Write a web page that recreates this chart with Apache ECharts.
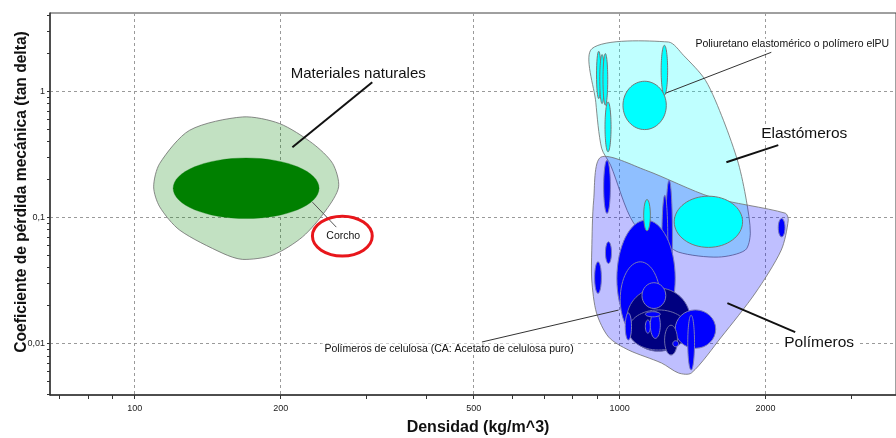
<!DOCTYPE html>
<html>
<head>
<meta charset="utf-8">
<script src="https://cdn.jsdelivr.net/npm/echarts@6/dist/echarts.min.js"></script>
<style>
  html, body { margin: 0; padding: 0; background: #fff; }
  #chart { width: 896px; height: 438px; }
</style>
</head>
<body>
<div id="chart"></div>
<script>
// ---- Axis extents and ticks ----
const densityRange = [66.87, 3715];          // kg/m^3
const lossRange = [0.003917, 4.17];          // tan delta
const densityLabelTicks = [100, 200, 500, 1000, 2000];
const densityMinorTicks = [70, 80, 90, 100, 200, 300, 400, 500, 600, 700, 800, 900, 1000, 2000, 3000];
const lossLabelTicks = [0.01, 0.1, 1];
const lossLabelText = ['0,01', '0,1', '1'];
const lossMinorTicks = [0.004, 0.005, 0.006, 0.007, 0.008, 0.009,
  0.01, 0.02, 0.03, 0.04, 0.05, 0.06, 0.07, 0.08, 0.09,
  0.1, 0.2, 0.3, 0.4, 0.5, 0.6, 0.7, 0.8, 0.9, 1, 2, 3, 4];

// ---- Material ranges: [density low, density high, loss low, loss high] ----
const corkRange = [[120, 240, 0.098, 0.296]];

const elastomerBubbles = [
  [896, 915, 0.875, 2.074],
  [910, 930, 0.799, 1.952],
  [924, 945, 0.775, 1.988],
  [933, 960, 0.331, 0.823],
  [1218, 1256, 0.930, 2.313],
  [1016, 1248, 0.497, 1.200],   // PU elastomer
  [1296, 1793, 0.0579, 0.1474],
  [1121, 1157, 0.0783, 0.1388]
];

const polymerBubbles = [
  [927, 957, 0.1075, 0.284],
  [935, 962, 0.0432, 0.0641],
  [888, 917, 0.025, 0.0445],
  [2124, 2193, 0.0702, 0.0982],
  [1245, 1285, 0.0266, 0.197],
  [1222, 1257, 0.0282, 0.150],
  [987, 1302, 0.01134, 0.0952],  // cellulose acetate
  [1003, 1213, 0.01134, 0.0445]
];

const polymerDarkBubbles = [
  [1034, 1398, 0.0087, 0.0276],
  [1043, 1387, 0.0089, 0.0185]
];

const polymerTopBubbles = [
  [1112, 1245, 0.019, 0.0304],
  [1130, 1157, 0.0121, 0.0154],
  [1157, 1213, 0.0110, 0.0179],
  [1130, 1213, 0.0163, 0.0179],
  [1027, 1058, 0.01068, 0.0175],
  [1302, 1578, 0.00918, 0.0185]
];

const polymerDarkTopBubbles = [
  [1238, 1316, 0.00812, 0.0140]
];

const polymerLastBubbles = [
  [1287, 1323, 0.00945, 0.01054],
  [1382, 1427, 0.00618, 0.0168]
];

// ---- Family envelopes: [density, loss] ----
const naturalEnvelope = [
  [167.0, 0.626], [129.8, 0.491], [112.6, 0.268], [109.4, 0.1747], [112.6, 0.1213],
  [123.8, 0.0793], [152.0, 0.0519], [167.0, 0.0465], [192.6, 0.0503], [221.9, 0.0702],
  [248.0, 0.1142], [263.3, 0.1747], [255.9, 0.268], [232.8, 0.3855], [198.8, 0.555]
];

const elastomerEnvelope = [
  [877, 2.178], [1261, 2.456], [1354, 1.928], [1503, 1.222], [1637, 0.589],
  [1757, 0.269], [1825, 0.1371], [1860, 0.0751], [1816, 0.0551], [1598, 0.0485],
  [1323, 0.0531], [1203, 0.0686], [1069, 0.0901], [958, 0.2595], [918, 0.3537], [893, 0.818]
];

const polymerEnvelope = [
  [914, 0.300], [1131, 0.237], [1546, 0.1448], [2196, 0.1081], [2227, 0.0952],
  [2154, 0.0551], [1905, 0.0252], [1621, 0.01128], [1406, 0.00585], [1323, 0.00585],
  [1220, 0.00702], [1043, 0.0089], [949, 0.01128], [896, 0.0175], [876, 0.0319],
  [876, 0.0551], [884, 0.1371]
];

// ---- Annotation text ----
const annotationText = [
  'Materiales naturales',
  'Corcho',
  'Poliuretano elastomérico o polímero elPU',
  'Elastómeros',
  'Polímeros',
  'Polímeros de celulosa (CA: Acetato de celulosa puro)'
];

// ---- Layout of annotations (data space): text x,y, leader from x,y, to x,y ----
const annotationLayout = [
  [289.0, 1.38, 308.9, 1.178, 211.4, 0.360],
  [269.2, 0.0711, 232.5, 0.1322, 260.4, 0.0838],
  [2270, 2.356, 2055, 2.036, 1243, 0.964],
  [2403, 0.465, 2124, 0.374, 1660, 0.274],
  [2579, 0.01011, 2302, 0.01235, 1668, 0.02097],
  [444.8, 0.00906, 520, 0.0103, 995, 0.01845]
];
const annotationStyle = [
  { size: 15, lw: 2, lc: '#111' },
  { size: 10.5, lw: 1, lc: '#555' },
  { size: 10.5, lw: 1, lc: '#333' },
  { size: 15.5, lw: 2, lc: '#111' },
  { size: 15.5, lw: 2, lc: '#111' },
  { size: 10.5, lw: 1, lc: '#333' }
];
const corkHighlight = [[232.5, 308.9, 0.0494, 0.1024]];

const FONT = '"Liberation Sans", Arial, sans-serif';

function ellipseSeries(name, data, fill, stroke, lineWidth, z) {
  return {
    type: 'custom',
    name: name,
    xAxisIndex: 0, yAxisIndex: 0,
    z: z,
    silent: true,
    data: data,
    encode: { x: [0, 1], y: [2, 3] },
    renderItem: function (params, api) {
      const p1 = api.coord([api.value(0), api.value(2)]);
      const p2 = api.coord([api.value(1), api.value(3)]);
      return {
        type: 'ellipse',
        shape: {
          cx: (p1[0] + p2[0]) / 2,
          cy: (p1[1] + p2[1]) / 2,
          rx: Math.abs(p2[0] - p1[0]) / 2,
          ry: Math.abs(p2[1] - p1[1]) / 2
        },
        style: { fill: fill, stroke: stroke, lineWidth: lineWidth }
      };
    }
  };
}

function envelopeSeries(name, points, fill, z) {
  return {
    type: 'custom',
    name: name,
    xAxisIndex: 0, yAxisIndex: 0,
    z: z,
    silent: true,
    data: points,
    encode: { x: 0, y: 1 },
    renderItem: function (params, api) {
      if (params.dataIndex !== 0) return null;
      const pts = points.map(function (p) { return api.coord(p); });
      return {
        type: 'polygon',
        shape: { points: pts, smooth: 0.28 },
        style: { fill: fill, stroke: 'rgba(110,110,110,0.8)', lineWidth: 1 }
      };
    }
  };
}

const annotationSeries = {
  type: 'custom',
  name: 'annotations',
  xAxisIndex: 0, yAxisIndex: 0,
  z: 20,
  silent: true,
  data: annotationLayout,
  encode: { x: [0, 2, 4], y: [1, 3, 5] },
  renderItem: function (params, api) {
    const i = params.dataIndex;
    const st = annotationStyle[i];
    const t = api.coord([api.value(0), api.value(1)]);
    const a = api.coord([api.value(2), api.value(3)]);
    const b = api.coord([api.value(4), api.value(5)]);
    return {
      type: 'group',
      children: [
        {
          type: 'line',
          shape: { x1: a[0], y1: a[1], x2: b[0], y2: b[1] },
          style: { stroke: st.lc, lineWidth: st.lw }
        },
        {
          type: 'text',
          style: {
            x: t[0], y: t[1],
            text: annotationText[i],
            font: st.size + 'px ' + FONT,
            fill: '#111',
            align: 'center',
            verticalAlign: 'middle',
            backgroundColor: '#fff',
            padding: [0, 3]
          }
        }
      ]
    };
  }
};

const highlightSeries = {
  type: 'custom',
  name: 'highlight',
  xAxisIndex: 0, yAxisIndex: 0,
  z: 21,
  silent: true,
  data: corkHighlight,
  encode: { x: [0, 1], y: [2, 3] },
  renderItem: function (params, api) {
    const p1 = api.coord([api.value(0), api.value(2)]);
    const p2 = api.coord([api.value(1), api.value(3)]);
    return {
      type: 'ellipse',
      shape: {
        cx: (p1[0] + p2[0]) / 2, cy: (p1[1] + p2[1]) / 2,
        rx: Math.abs(p2[0] - p1[0]) / 2, ry: Math.abs(p2[1] - p1[1]) / 2
      },
      style: { fill: null, stroke: '#e8161b', lineWidth: 3 }
    };
  }
};

function nearestLabel(v, ticks, texts) {
  let best = 0;
  for (let i = 1; i < ticks.length; i++) {
    if (Math.abs(Math.log10(ticks[i]) - Math.log10(v)) < Math.abs(Math.log10(ticks[best]) - Math.log10(v))) best = i;
  }
  return texts[best];
}

const axisLabelStyle = { fontFamily: FONT, fontSize: 9, color: '#222' };

const option = {
  animation: false,
  backgroundColor: '#fff',
  grid: {
    left: 50, right: -2, top: 13, bottom: 43,
    show: true, borderColor: '#404040', borderWidth: 1, backgroundColor: 'transparent'
  },
  xAxis: [
    {
      type: 'log', position: 'bottom',
      min: densityRange[0], max: densityRange[1],
      axisLine: { show: true, onZero: false, lineStyle: { color: '#333', width: 1.5 } },
      axisTick: { show: false, customValues: densityLabelTicks },
      axisLabel: Object.assign({
        customValues: densityLabelTicks, margin: 9,
        formatter: function (v) { return String(Math.round(v)); }
      }, axisLabelStyle),
      splitLine: { show: true, lineStyle: { color: '#9a9a9a', type: [3, 3], width: 1 } },
      minorTick: { show: false }, minorSplitLine: { show: false }
    },
    {
      type: 'log', position: 'bottom',
      min: densityRange[0], max: densityRange[1],
      axisLine: { show: false, onZero: false },
      axisTick: { show: true, inside: false, length: 4, customValues: densityMinorTicks, lineStyle: { color: '#333' } },
      axisLabel: { show: false },
      splitLine: { show: false }
    }
  ],
  yAxis: [
    {
      type: 'log', position: 'left',
      min: lossRange[0], max: lossRange[1],
      axisLine: { show: true, onZero: false, lineStyle: { color: '#333', width: 1.5 } },
      axisTick: { show: false, customValues: lossLabelTicks },
      axisLabel: Object.assign({
        customValues: lossLabelTicks, margin: 5,
        formatter: function (v) { return nearestLabel(v, lossLabelTicks, lossLabelText); }
      }, axisLabelStyle),
      splitLine: { show: true, lineStyle: { color: '#9a9a9a', type: [3, 3], width: 1 } }
    },
    {
      type: 'log', position: 'left',
      min: lossRange[0], max: lossRange[1],
      axisLine: { show: false, onZero: false },
      axisTick: { show: true, inside: false, length: 3, customValues: lossMinorTicks, lineStyle: { color: '#333' } },
      axisLabel: { show: false },
      splitLine: { show: false }
    }
  ],
  graphic: [
    {
      type: 'text', z: 30,
      x: 478, y: 428,
      style: {
        text: 'Densidad (kg/m^3)', font: 'bold 16px ' + FONT, fill: '#111',
        align: 'center', verticalAlign: 'middle'
      }
    },
    {
      type: 'text', z: 30,
      x: 22, y: 192, rotation: Math.PI / 2,
      style: {
        text: 'Coeficiente de pérdida mecánica (tan delta)', font: 'bold 15.6px ' + FONT, fill: '#111',
        align: 'center', verticalAlign: 'middle'
      }
    }
  ],
  series: [
    envelopeSeries('Materiales naturales', naturalEnvelope, 'rgba(0,128,0,0.24)', 2),
    ellipseSeries('Corcho', corkRange, '#008000', 'rgba(0,110,0,0.6)', 0.5, 3),
    envelopeSeries('Elastómeros', elastomerEnvelope, 'rgba(0,255,255,0.25)', 2),
    envelopeSeries('Polímeros', polymerEnvelope, 'rgba(0,0,255,0.25)', 2),
    ellipseSeries('Polímeros 1', polymerBubbles, '#0000ff', '#7a7ab8', 1, 4),
    ellipseSeries('Polímeros 2', polymerDarkBubbles, '#000080', '#6a6aa8', 1, 5),
    ellipseSeries('Polímeros 3', polymerTopBubbles, '#0000ff', '#7a7ab8', 1, 6),
    ellipseSeries('Polímeros 4', polymerDarkTopBubbles, '#000080', '#6a6aa8', 1, 7),
    ellipseSeries('Polímeros 5', polymerLastBubbles, '#0000ff', '#7a7ab8', 1, 8),
    ellipseSeries('Elastómeros burbujas', elastomerBubbles, '#00ffff', '#777', 1, 9),
    annotationSeries,
    highlightSeries
  ]
};

const chart = echarts.init(document.getElementById('chart'), null, { renderer: 'canvas' });
chart.setOption(option);
</script>
</body>
</html>
